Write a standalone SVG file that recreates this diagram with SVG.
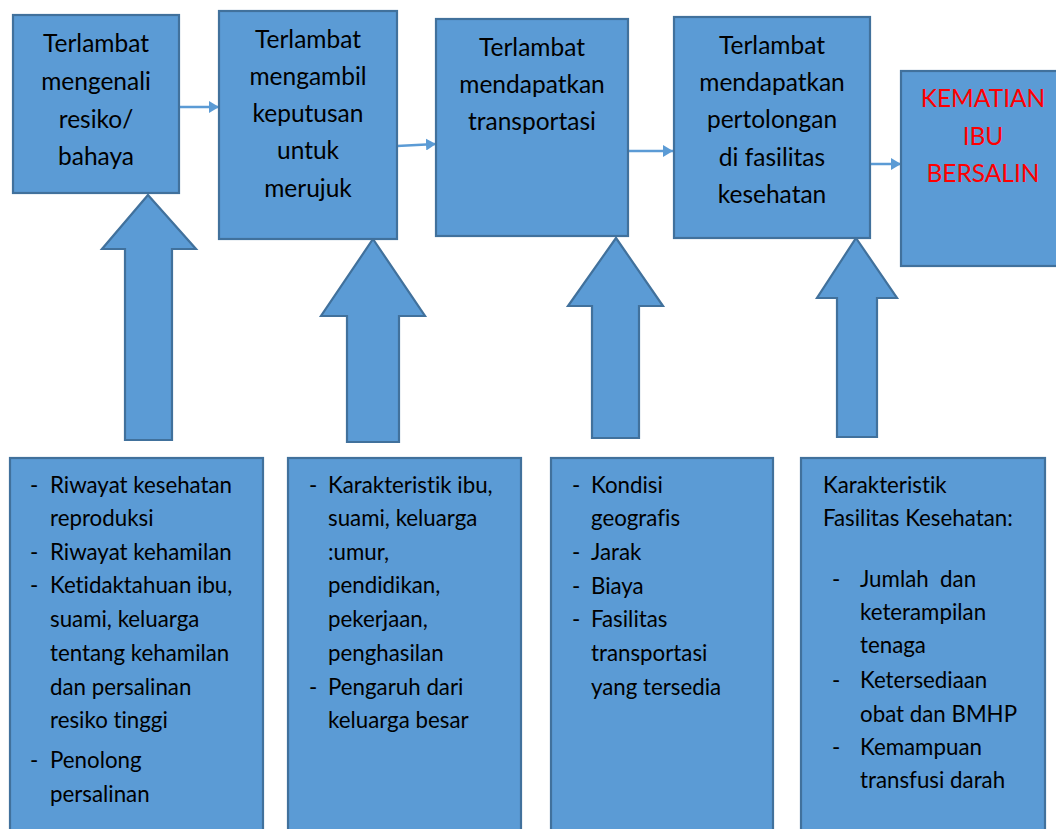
<svg xmlns="http://www.w3.org/2000/svg" width="1056" height="829" viewBox="0 0 1056 829">
<style>
.box{fill:#5B9BD5;stroke:#41719C;stroke-width:2.2}
.blk{fill:#5B9BD5;stroke:#41719C;stroke-width:2.2;stroke-linejoin:miter}
.t{font-family:Lato,"Liberation Sans",sans-serif;font-size:24.5px;fill:#000;text-anchor:middle;font-variant-ligatures:none}
.r{fill:#FF0000}
.b{font-family:Lato,"Liberation Sans",sans-serif;font-size:22.3px;fill:#000;font-variant-ligatures:none}
.con{stroke:#5B9BD5;stroke-width:2.5;fill:none}
</style>
<defs>
<marker id="ah" markerWidth="10" markerHeight="12" refX="10" refY="6" orient="auto" markerUnits="userSpaceOnUse">
<path d="M0,0 L10,6 L0,12 Z" fill="#5B9BD5"/>
</marker>
</defs>
<g id="connectors">
<line class="con" x1="179" y1="107" x2="219" y2="107" marker-end="url(#ah)"/>
<line class="con" x1="397" y1="146" x2="436" y2="144" marker-end="url(#ah)"/>
<line class="con" x1="628" y1="151" x2="673" y2="151" marker-end="url(#ah)"/>
<line class="con" x1="870" y1="164" x2="901" y2="164" marker-end="url(#ah)"/>
<polygon class="blk" points="148,195 196,249 172,249 172,440 125,440 125,249 102,249"/>
<polygon class="blk" points="373,239 425,316 399,316 399,442 347,442 347,316 321,316"/>
<polygon class="blk" points="616,238 663,306 639,306 639,438 592,438 592,306 568,306"/>
<polygon class="blk" points="856,238 897,298 877,298 877,437 837,437 837,298 817,298"/>
</g>
<g id="n1">
<rect class="box" x="13" y="15" width="166" height="178"/>
<text class="t" x="96" y="52">Terlambat</text>
<text class="t" x="96" y="90">mengenali</text>
<text class="t" x="96" y="128">resiko/</text>
<text class="t" x="96" y="165">bahaya</text>
</g>
<g id="n2">
<rect class="box" x="219" y="11" width="178" height="228"/>
<text class="t" x="308" y="48">Terlambat</text>
<text class="t" x="308" y="85">mengambil</text>
<text class="t" x="308" y="122">keputusan</text>
<text class="t" x="308" y="159">untuk</text>
<text class="t" x="308" y="197">merujuk</text>
</g>
<g id="n3">
<rect class="box" x="436" y="19" width="192" height="217"/>
<text class="t" x="532" y="56">Terlambat</text>
<text class="t" x="532" y="93">mendapatkan</text>
<text class="t" x="532" y="130">transportasi</text>
</g>
<g id="n4">
<rect class="box" x="674" y="17" width="196" height="221"/>
<text class="t" x="772" y="54">Terlambat</text>
<text class="t" x="772" y="91">mendapatkan</text>
<text class="t" x="772" y="128">pertolongan</text>
<text class="t" x="772" y="166">di fasilitas</text>
<text class="t" x="772" y="203">kesehatan</text>
</g>
<g id="n5">
<rect class="box" x="901" y="71" width="165" height="195"/>
<text class="t r" x="983" y="107">KEMATIAN</text>
<text class="t r" x="983" y="145">IBU</text>
<text class="t r" x="983" y="182">BERSALIN</text>
</g>
<g id="b1">
<rect class="box" x="10" y="458" width="253" height="380"/>
<text class="b" x="30" y="493">-</text><text class="b" x="50" y="493">Riwayat kesehatan</text>
<text class="b" x="50" y="526">reproduksi</text>
<text class="b" x="30" y="560">-</text><text class="b" x="50" y="560">Riwayat kehamilan</text>
<text class="b" x="30" y="593">-</text><text class="b" x="50" y="593">Ketidaktahuan ibu,</text>
<text class="b" x="50" y="627">suami, keluarga</text>
<text class="b" x="50" y="661">tentang kehamilan</text>
<text class="b" x="50" y="695">dan persalinan</text>
<text class="b" x="50" y="728">resiko tinggi</text>
<text class="b" x="30" y="768">-</text><text class="b" x="50" y="768">Penolong</text>
<text class="b" x="50" y="802">persalinan</text>
</g>
<g id="b2">
<rect class="box" x="288" y="458" width="233" height="380"/>
<text class="b" x="309" y="493">-</text><text class="b" x="328" y="493">Karakteristik ibu,</text>
<text class="b" x="328" y="526">suami, keluarga</text>
<text class="b" x="328" y="560">:umur,</text>
<text class="b" x="328" y="593">pendidikan,</text>
<text class="b" x="328" y="627">pekerjaan,</text>
<text class="b" x="328" y="661">penghasilan</text>
<text class="b" x="309" y="695">-</text><text class="b" x="328" y="695">Pengaruh dari</text>
<text class="b" x="328" y="728">keluarga besar</text>
</g>
<g id="b3">
<rect class="box" x="551" y="458" width="222" height="380"/>
<text class="b" x="572" y="493">-</text><text class="b" x="591" y="493">Kondisi</text>
<text class="b" x="591" y="526">geografis</text>
<text class="b" x="572" y="560">-</text><text class="b" x="591" y="560">Jarak</text>
<text class="b" x="572" y="594">-</text><text class="b" x="591" y="594">Biaya</text>
<text class="b" x="572" y="627">-</text><text class="b" x="591" y="627">Fasilitas</text>
<text class="b" x="591" y="661">transportasi</text>
<text class="b" x="591" y="695">yang tersedia</text>
</g>
<g id="b4">
<rect class="box" x="801" y="458" width="244" height="380"/>
<text class="b" x="823" y="493">Karakteristik</text>
<text class="b" x="823" y="526">Fasilitas Kesehatan:</text>
<text class="b" x="832" y="587">-</text><text class="b" x="860" y="587" xml:space="preserve" style="white-space:pre">Jumlah  dan</text>
<text class="b" x="860" y="620">keterampilan</text>
<text class="b" x="860" y="653">tenaga</text>
<text class="b" x="832" y="688">-</text><text class="b" x="860" y="688">Ketersediaan</text>
<text class="b" x="860" y="722">obat dan BMHP</text>
<text class="b" x="832" y="755">-</text><text class="b" x="860" y="755">Kemampuan</text>
<text class="b" x="860" y="788">transfusi darah</text>
</g>
</svg>
